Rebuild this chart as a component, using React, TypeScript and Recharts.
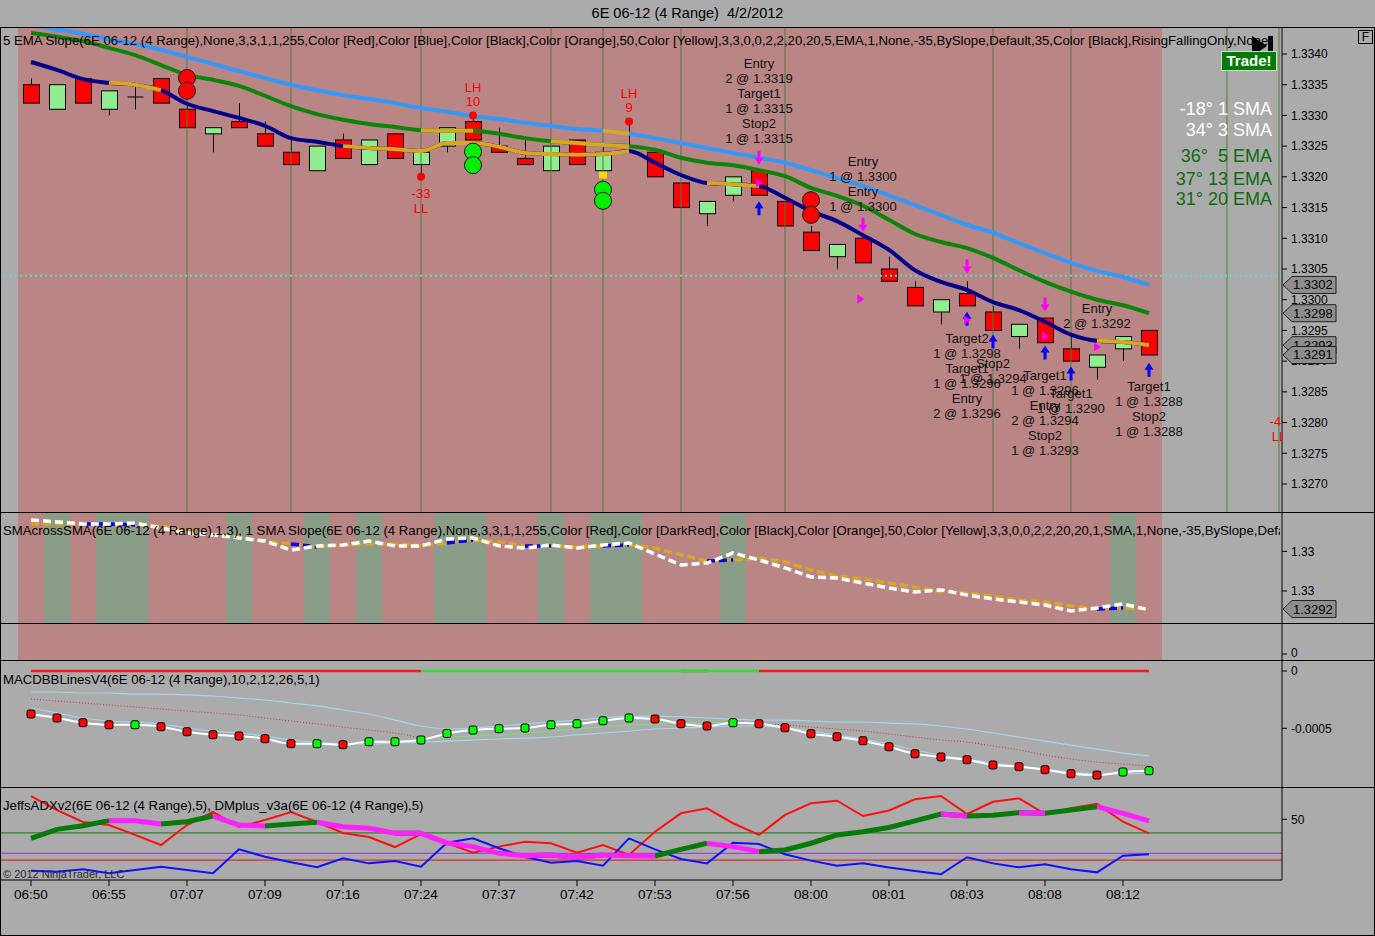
import React from 'react';
import {
  ComposedChart, Bar, Line, Scatter, XAxis, YAxis,
  ReferenceArea, ReferenceLine, ReferenceDot,
} from 'recharts';

const FONT = '"Liberation Sans", Arial, sans-serif';
const W = 1375;
const AXIS_W = 93;
const X_DOMAIN: [number, number] = [-1.1923, 48.1154];
const PINK = '#B98585';
const GRAY = '#ABABAB';
const BAND = '#8A9D88';
const BODY_W = 16;

// ---------- price panel (4 range bars) ----------
const opens = [1.3335, 1.3331, 1.3336, 1.3331, 1.3333, 1.3336, 1.3331, 1.3327, 1.3329, 1.3327, 1.3324, 1.3321, 1.3326, 1.3322, 1.3327, 1.3322, 1.3325, 1.3329, 1.3325, 1.3323, 1.3321, 1.3326, 1.3321, 1.3325, 1.3324, 1.3319, 1.3314, 1.3317, 1.3321, 1.3316, 1.3311, 1.3307, 1.3310, 1.3305, 1.3302, 1.3298, 1.3301, 1.3298, 1.3294, 1.3297, 1.3292, 1.3289, 1.3292, 1.3295];
const highs = [1.3336, 1.3335, 1.3336, 1.3334, 1.3335, 1.3336, 1.3332, 1.3328, 1.3332, 1.3329, 1.3326, 1.3325, 1.3327, 1.3326, 1.3327, 1.3324, 1.3328, 1.3330, 1.3328, 1.3326, 1.3325, 1.3326, 1.3325, 1.3329, 1.3324, 1.3319, 1.3316, 1.3320, 1.3321, 1.3316, 1.3312, 1.3309, 1.3310, 1.3307, 1.3303, 1.3300, 1.3303, 1.3299, 1.3296, 1.3297, 1.3294, 1.3291, 1.3294, 1.3295];
const lows = [1.3332, 1.3331, 1.3332, 1.3330, 1.3331, 1.3332, 1.3328, 1.3324, 1.3328, 1.3325, 1.3322, 1.3321, 1.3323, 1.3322, 1.3323, 1.3320, 1.3324, 1.3326, 1.3324, 1.3322, 1.3321, 1.3322, 1.3321, 1.3325, 1.3320, 1.3315, 1.3312, 1.3316, 1.3317, 1.3312, 1.3308, 1.3305, 1.3306, 1.3303, 1.3299, 1.3296, 1.3299, 1.3295, 1.3292, 1.3293, 1.3290, 1.3287, 1.3290, 1.3291];
const closes = [1.3332, 1.3335, 1.3332, 1.3334, 1.3333, 1.3332, 1.3328, 1.3328, 1.3328, 1.3325, 1.3322, 1.3325, 1.3323, 1.3326, 1.3323, 1.3324, 1.3328, 1.3326, 1.3324, 1.3322, 1.3325, 1.3322, 1.3324, 1.3325, 1.3320, 1.3315, 1.3316, 1.3320, 1.3317, 1.3312, 1.3308, 1.3309, 1.3306, 1.3303, 1.3299, 1.3300, 1.3299, 1.3295, 1.3296, 1.3293, 1.3290, 1.3291, 1.3294, 1.3291];

const ema20 = [1.33447, 1.33440, 1.33433, 1.33424, 1.33416, 1.33407, 1.33395, 1.33384, 1.33372, 1.33361, 1.33350, 1.33341, 1.33333, 1.33327, 1.33320, 1.33312, 1.33306, 1.33299, 1.33294, 1.33288, 1.33283, 1.33278, 1.33275, 1.33270, 1.33263, 1.33255, 1.33247, 1.33239, 1.33231, 1.33223, 1.33211, 1.33198, 1.33185, 1.33170, 1.33154, 1.33138, 1.33122, 1.33109, 1.33092, 1.33076, 1.33060, 1.33047, 1.33037, 1.33024];
const ema13 = [1.33434, 1.33428, 1.33421, 1.33410, 1.33398, 1.33382, 1.33366, 1.33358, 1.33348, 1.33332, 1.33315, 1.33302, 1.33293, 1.33286, 1.33281, 1.33276, 1.33275, 1.33275, 1.33270, 1.33263, 1.33258, 1.33255, 1.33252, 1.33250, 1.33244, 1.33231, 1.33223, 1.33219, 1.33211, 1.33201, 1.33182, 1.33169, 1.33153, 1.33130, 1.33107, 1.33094, 1.33084, 1.33068, 1.33048, 1.33029, 1.33013, 1.33000, 1.32991, 1.32978];
const ema5 = [1.33387, 1.33374, 1.33359, 1.33353, 1.33350, 1.33341, 1.33319, 1.33307, 1.33296, 1.33283, 1.33263, 1.33257, 1.33250, 1.33247, 1.33245, 1.33242, 1.33255, 1.33255, 1.33249, 1.33239, 1.33237, 1.33236, 1.33237, 1.33242, 1.33223, 1.33203, 1.33190, 1.33188, 1.33185, 1.33166, 1.33144, 1.33128, 1.33105, 1.33081, 1.33048, 1.33029, 1.33016, 1.32996, 1.32983, 1.32964, 1.32943, 1.32933, 1.32931, 1.32926];
// bar ranges where each average is flat (drawn orange)
const ema5Flat = [[3, 5], [12, 15], [16, 18], [19, 23], [26, 28], [41, 43]];
const ema13Flat = [[15, 17], [20, 23]];
const ema20Flat = [[22, 23]];

const priceTicks = [1.3270, 1.3275, 1.3280, 1.3285, 1.3290, 1.3295, 1.3300, 1.3305, 1.3310, 1.3315, 1.3320, 1.3325, 1.3330, 1.3335, 1.3340];
const minuteLines = [6, 10, 15, 20, 22, 25, 29, 37, 40, 46, 48];
const drawnLevel = 1.33039;

const redSignals = [{ x: 6, y: 1.33361 }, { x: 6, y: 1.33340 }, { x: 30, y: 1.33162 }, { x: 30, y: 1.33138 }];
const greenSignals = [{ x: 17, y: 1.33241 }, { x: 17, y: 1.33219 }, { x: 22, y: 1.33179 }, { x: 22, y: 1.33161 }];
const yellowMarks = [{ x: 22, y: 1.33202 }];
const pivots = [
  { x: 15, y: 1.3320, lines: ['-33', 'LL'], below: true, dot: true },
  { x: 17, y: 1.3330, lines: ['LH', '10'], below: false, dot: true },
  { x: 23, y: 1.3329, lines: ['LH', '9'], below: false, dot: true },
  { x: 48, y: 1.3283, lines: ['-40', 'LL'], below: true, dot: false },
];
const exitArrows = [{ x: 28, y: 1.33231 }, { x: 32, y: 1.33122 }, { x: 36, y: 1.33054 }, { x: 39, y: 1.32992 }];
const entryArrows = [{ x: 28, y: 1.33149 }, { x: 36, y: 1.32969 }, { x: 37, y: 1.32932 }, { x: 39, y: 1.32914 }, { x: 40, y: 1.32880 }, { x: 43, y: 1.32886 }];
const fillMarks = [{ x: 28, y: 1.33190 }, { x: 31.9, y: 1.33001 }, { x: 36, y: 1.32967 }, { x: 39, y: 1.32941 }, { x: 41, y: 1.32923 }];
const orderNotes = [
  { x: 28, y: 1.33384, lines: ['Entry', '2 @ 1.3319', 'Target1', '1 @ 1.3315', 'Stop2', '1 @ 1.3315'] },
  { x: 32, y: 1.33225, lines: ['Entry', '1 @ 1.3300', 'Entry', '1 @ 1.3300'] },
  { x: 36, y: 1.32937, lines: ['Target2', '1 @ 1.3298', 'Target1', '1 @ 1.3296', 'Entry', '2 @ 1.3296'] },
  { x: 37, y: 1.32896, lines: ['Stop2', '1 @ 1.3294'] },
  { x: 39, y: 1.32877, lines: ['Target1', '1 @ 1.3296', 'Entry', '2 @ 1.3294', 'Stop2', '1 @ 1.3293'] },
  { x: 40, y: 1.32848, lines: ['Target1', '1 @ 1.3290'] },
  { x: 41, y: 1.32986, lines: ['Entry', '2 @ 1.3292'] },
  { x: 43, y: 1.32858, lines: ['Target1', '1 @ 1.3288', 'Stop2', '1 @ 1.3288'] },
];
const slopeNotes = [
  { text: '-18° 1 SMA', light: true },
  { text: '34° 3 SMA', light: true },
  { text: '36°  5 EMA', light: false },
  { text: '37° 13 EMA', light: false },
  { text: '31° 20 EMA', light: false },
];

// ---------- SMA cross panel ----------
const sma1 = [1.33323, 1.33314, 1.33305, 1.33305, 1.33309, 1.33286, 1.33264, 1.33255, 1.33241, 1.33227, 1.33186, 1.33205, 1.33209, 1.33227, 1.33205, 1.33205, 1.33236, 1.33241, 1.33205, 1.33195, 1.33209, 1.33195, 1.33209, 1.33218, 1.33168, 1.33118, 1.33127, 1.33173, 1.33141, 1.33105, 1.33064, 1.33059, 1.33036, 1.33014, 1.32995, 1.33005, 1.32982, 1.32964, 1.32950, 1.32936, 1.32909, 1.32923, 1.32941, 1.32914];
const sma3 = [1.33305, 1.33305, 1.33305, 1.33305, 1.33300, 1.33295, 1.33277, 1.33259, 1.33245, 1.33227, 1.33214, 1.33200, 1.33209, 1.33214, 1.33214, 1.33205, 1.33218, 1.33232, 1.33223, 1.33205, 1.33205, 1.33200, 1.33205, 1.33209, 1.33195, 1.33164, 1.33136, 1.33141, 1.33150, 1.33132, 1.33095, 1.33068, 1.33055, 1.33036, 1.33018, 1.32995, 1.32991, 1.32977, 1.32959, 1.32950, 1.32932, 1.32918, 1.32923, 1.32918];
const sma3Rising = [[2, 4], [10, 11], [16, 17], [19, 20], [22, 23], [26, 27], [41, 42]];
const smaUpBars = [1, 3, 4, 8, 11, 13, 16, 17, 20, 22, 23, 27, 42];
const smaTicks = [1.3300, 1.3318];

// ---------- MACD BB panel ----------
const macd = [-0.000375, -0.000410, -0.000451, -0.000469, -0.000469, -0.000486, -0.000530, -0.000556, -0.000567, -0.000591, -0.000634, -0.000634, -0.000643, -0.000617, -0.000617, -0.000602, -0.000545, -0.000515, -0.000503, -0.000497, -0.000469, -0.000460, -0.000434, -0.000410, -0.000419, -0.000460, -0.000480, -0.000451, -0.000460, -0.000495, -0.000547, -0.000573, -0.000608, -0.000661, -0.000722, -0.000750, -0.000774, -0.000820, -0.000835, -0.000861, -0.000896, -0.000908, -0.000881, -0.000870];
const macdUp = [0, 0, 0, 0, 1, 0, 0, 0, 0, 0, 0, 1, 0, 1, 1, 1, 1, 1, 1, 1, 1, 1, 1, 1, 0, 0, 0, 1, 0, 0, 0, 0, 0, 0, 0, 0, 0, 0, 0, 0, 0, 0, 1, 1];
const bandA = [-0.000183, -0.000183, -0.000192, -0.000192, -0.000201, -0.000201, -0.000209, -0.000218, -0.000236, -0.000253, -0.000279, -0.000305, -0.000340, -0.000375, -0.000428, -0.000480, -0.000506, -0.000497, -0.000480, -0.000462, -0.000445, -0.000428, -0.000410, -0.000393, -0.000393, -0.000401, -0.000410, -0.000419, -0.000428, -0.000428, -0.000436, -0.000445, -0.000445, -0.000454, -0.000462, -0.000480, -0.000506, -0.000541, -0.000576, -0.000611, -0.000646, -0.000681, -0.000716, -0.000742];
const bandB = [-0.000323, -0.000366, -0.000410, -0.000436, -0.000445, -0.000462, -0.000497, -0.000524, -0.000541, -0.000567, -0.000602, -0.000620, -0.000637, -0.000637, -0.000628, -0.000620, -0.000611, -0.000602, -0.000593, -0.000585, -0.000576, -0.000558, -0.000541, -0.000524, -0.000506, -0.000497, -0.000489, -0.000480, -0.000480, -0.000497, -0.000524, -0.000558, -0.000593, -0.000637, -0.000689, -0.000733, -0.000768, -0.000803, -0.000829, -0.000855, -0.000881, -0.000899, -0.000899, -0.000890];
const signal = [-0.000244, -0.000262, -0.000279, -0.000297, -0.000314, -0.000332, -0.000349, -0.000366, -0.000384, -0.000410, -0.000436, -0.000462, -0.000489, -0.000515, -0.000541, -0.000585, -0.000576, -0.000567, -0.000558, -0.000541, -0.000524, -0.000506, -0.000489, -0.000471, -0.000462, -0.000454, -0.000454, -0.000454, -0.000462, -0.000471, -0.000489, -0.000506, -0.000524, -0.000550, -0.000576, -0.000602, -0.000620, -0.000654, -0.000689, -0.000733, -0.000768, -0.000794, -0.000812, -0.000829];
const signalRising = [[15, 27]];
const signalFalling = [[0, 15], [27, 43]];
const trendUp = [[15, 25], [26, 28]];
const trendDown = [[0, 15], [25, 26], [28, 43]];

// ---------- ADX / DM panel ----------
const diPlus = [67.1, 56.8, 48.0, 45.8, 38.5, 31.1, 45.8, 55.4, 44.3, 49.5, 55.4, 48.0, 39.9, 37.0, 29.6, 39.2, 32.6, 25.4, 29.9, 33.5, 32.4, 25.4, 31.1, 23.8, 40.9, 54.4, 58.1, 47.1, 38.5, 53.2, 61.8, 63.7, 52.4, 56.5, 64.7, 67.1, 53.9, 62.9, 65.4, 53.9, 58.1, 61.3, 48.2, 39.7];
const diMinus = [12.2, 11.5, 13.2, 10.3, 12.7, 15.1, 12.7, 10.3, 27.9, 22.5, 18.4, 14.7, 21.3, 17.6, 19.3, 15.1, 32.8, 36.0, 28.7, 22.5, 18.1, 19.3, 15.9, 36.0, 27.9, 20.8, 17.6, 32.8, 31.8, 24.3, 19.6, 15.9, 17.6, 14.6, 12.0, 9.6, 22.1, 17.6, 14.7, 16.9, 13.2, 11.0, 23.2, 24.3];
const adx = [36.0, 42.6, 45.3, 49.0, 49.0, 46.5, 48.2, 52.4, 45.8, 45.1, 46.5, 47.8, 44.6, 43.4, 39.7, 39.7, 32.6, 29.9, 25.0, 23.2, 23.8, 22.1, 23.8, 23.2, 23.0, 27.9, 32.4, 29.9, 26.2, 27.4, 32.4, 38.5, 40.9, 44.0, 48.8, 53.9, 52.4, 52.9, 54.9, 54.4, 56.8, 59.3, 54.4, 48.8];
const adxUp = [[0, 3], [5, 7], [9, 11], [14, 15], [19, 20], [21, 22], [24, 26], [28, 35], [36, 38], [39, 41]];
const adxDown = [[3, 5], [7, 9], [11, 14], [15, 19], [20, 21], [22, 24], [26, 28], [35, 36], [38, 39], [41, 43]];
const adxLevels = [40, 25, 20];

const timeTicks = [0, 3, 6, 9, 12, 15, 18, 21, 24, 27, 30, 33, 36, 39, 42];
const timeLabels = ['06:50', '06:55', '07:07', '07:09', '07:16', '07:24', '07:37', '07:42', '07:53', '07:56', '08:00', '08:01', '08:03', '08:08', '08:12'];

// ---------- helpers ----------
const pick = (vals: number[], ranges: number[][]) =>
  vals.map((v, i) => (ranges.some(([a, b]) => i >= a && i <= b) ? v : null));

const e5f = pick(ema5, ema5Flat);
const e13f = pick(ema13, ema13Flat);
const e20f = pick(ema20, ema20Flat);
const priceRows = closes.map((c, i) => ({
  x: i, o: opens[i], h: highs[i], l: lows[i], c, range: [lows[i], highs[i]],
  e5: ema5[i], e13: ema13[i], e20: ema20[i], e5f: e5f[i], e13f: e13f[i], e20f: e20f[i],
}));

const s3r = pick(sma3, sma3Rising);
const smaRows = sma1.map((v, i) => ({ x: i, s1: v, s3: sma3[i], s3r: s3r[i] }));

const zUp = pick(macd.map(() => 0), trendUp);
const zDn = pick(macd.map(() => 0), trendDown);
const sigR = pick(signal, signalRising);
const sigF = pick(signal, signalFalling);
const macdRows = macd.map((v, i) => ({
  x: i, m: v, a: bandA[i], b: bandB[i], sr: sigR[i], sf: sigF[i], zu: zUp[i], zd: zDn[i],
}));

const adxU = pick(adx, adxUp);
const adxD = pick(adx, adxDown);
const adxRows = adx.map((v, i) => ({ x: i, p: diPlus[i], n: diMinus[i], au: adxU[i], ad: adxD[i] }));

const yAxisBase = {
  orientation: 'right' as const,
  width: AXIS_W,
  allowDataOverflow: true,
  tick: { fill: '#000', fontSize: 12 },
  tickLine: { stroke: '#000' },
  axisLine: { stroke: '#000' },
  tickSize: 5,
  tickMargin: 4,
};
const margin = { top: 0, right: 0, bottom: 0, left: 0 };

// ---------- shapes ----------
const Candle = (props: any) => {
  const { x, y, width, height, payload } = props;
  if (x == null || y == null || !payload) return null;
  const top = Math.min(y, y + height);
  const h = Math.abs(height);
  const span = payload.h - payload.l || 1;
  const py = (v: number) => top + ((payload.h - v) / span) * h;
  const cx = Math.round(x + width / 2) + 0.5;
  const left = cx - BODY_W / 2;
  const yo = py(payload.o);
  const yc = py(payload.c);
  const bt = Math.min(yo, yc);
  const bb = Math.max(yo, yc);
  return (
    <g>
      <line x1={cx} x2={cx} y1={top} y2={top + h} stroke="#000" strokeWidth={1} />
      {bb - bt < 0.5 ? (
        <line x1={left} x2={left + BODY_W} y1={bt} y2={bt} stroke="#000" strokeWidth={1} />
      ) : (
        <rect x={left} y={bt} width={BODY_W} height={bb - bt} fill={payload.c > payload.o ? '#90EE90' : '#FF0000'} stroke="#000" strokeWidth={1} />
      )}
    </g>
  );
};

const ball = (fill: string) => (p: any) => (
  <circle cx={p.cx} cy={p.cy} r={8.5} fill={fill} stroke="#1a1a1a" strokeWidth={1} />
);
const YellowMark = (p: any) => (
  <rect x={p.cx - 4} y={p.cy - 4} width={8} height={7} fill="#FFD700" />
);
const PivotMark = (p: any) => {
  const d = p.payload;
  return (
    <g>
      {d.dot && <circle cx={p.cx} cy={p.cy} r={4} fill="#FF0000" />}
      {d.lines.map((t: string, k: number) => (
        <text key={k} x={p.cx} y={p.cy + (d.below ? 17 + 15 * k : -28 + 14 * k)} textAnchor="middle" dominantBaseline="central" fontSize={13} fill="#FF0000">{t}</text>
      ))}
    </g>
  );
};
const DownArrow = (p: any) => (
  <path d={`M${p.cx - 1.5},${p.cy - 7} h3 v7 h3 l-4.5,7 l-4.5,-7 h3 z`} fill="#FF00FF" />
);
const UpArrow = (p: any) => (
  <path d={`M${p.cx - 1.5},${p.cy + 7} h3 v-7 h3 l-4.5,-7 l-4.5,7 h3 z`} fill="#0000FF" />
);
const FillMark = (p: any) => (
  <path d={`M${p.cx - 3},${p.cy - 4.5} L${p.cx + 4},${p.cy} L${p.cx - 3},${p.cy + 4.5} Z`} fill="#FF00FF" />
);
const Note = (p: any) => (
  <g>
    {p.payload.lines.map((t: string, k: number) => (
      <text key={k} x={p.cx} y={p.cy + 15 * k} textAnchor="middle" dominantBaseline="central" fontSize={13} fill="#111">{t}</text>
    ))}
  </g>
);
const flag = (text: string) => (p: any) => (
  <g>
    <path d={`M${p.cx + 1},${p.cy} L${p.cx + 10},${p.cy - 8.5} L${p.cx + 54},${p.cy - 8.5} L${p.cx + 54},${p.cy + 8.5} L${p.cx + 10},${p.cy + 8.5} Z`} fill="#8E8E8E" stroke="#222" strokeWidth={1} />
    <text x={p.cx + 11} y={p.cy} dominantBaseline="central" fontSize={13} fill="#000">{text}</text>
  </g>
);

const line = (key: string, stroke: string, width: number, extra: any = {}) => (
  <Line key={key} dataKey={key} stroke={stroke} strokeWidth={width} dot={false} activeDot={false} isAnimationActive={false} type="monotone" {...extra} />
);

const abs = (top: number, height: number, extra: any = {}) => ({
  position: 'absolute' as const, left: 0, top, height, ...extra,
});
const caption = (top: number, clip: boolean) => ({
  position: 'absolute' as const, left: 0, top, width: clip ? 1280 : undefined, overflow: 'hidden' as const,
  whiteSpace: 'nowrap' as const, fontSize: 13.2, lineHeight: '16px', paddingLeft: 3, boxSizing: 'border-box' as const,
});

export default function App() {
  const priceFlags = [ema20[43], ema13[43], ema5[43], closes[43]];
  return (
    <div style={{ position: 'absolute', left: 0, top: 0, width: W, height: 936, background: GRAY, fontFamily: FONT, overflow: 'hidden', color: '#000' }}>
      <div style={{ position: 'absolute', left: 0, width: W, top: 4, lineHeight: '18px', textAlign: 'center', fontSize: 14.5, whiteSpace: 'pre' }}>
        6E 06-12 (4 Range)  4/2/2012
      </div>

      {/* price panel */}
      <div style={abs(28, 484)}>
        <ComposedChart width={W} height={484} data={priceRows} margin={margin}>
          <XAxis dataKey="x" type="number" domain={X_DOMAIN} hide allowDataOverflow />
          <YAxis {...yAxisBase} domain={[1.326544, 1.334423]} ticks={priceTicks} tickFormatter={(v: number) => v.toFixed(4)} />
          <ReferenceArea x1={-0.5} x2={43.5} fill={PINK} fillOpacity={1} stroke="none" />
          {minuteLines.map((m) => (
            <ReferenceLine key={m} x={m} stroke="#4E7D3C" strokeWidth={1} />
          ))}
          <ReferenceLine y={drawnLevel} stroke="#5CD6D6" strokeWidth={2} strokeDasharray="2 3" />
          <Bar dataKey="range" barSize={BODY_W} shape={Candle} isAnimationActive={false} />
          {line('e20', '#3399FF', 4)}
          {line('e20f', '#DAA520', 4)}
          {line('e13', '#0A850A', 4)}
          {line('e13f', '#DAA520', 4)}
          {line('e5', '#00008B', 4)}
          {line('e5f', '#DAA520', 4)}
          <Scatter data={redSignals} dataKey="y" shape={ball('#FF0000')} isAnimationActive={false} />
          <Scatter data={greenSignals} dataKey="y" shape={ball('#00EE00')} isAnimationActive={false} />
          <Scatter data={yellowMarks} dataKey="y" shape={YellowMark} isAnimationActive={false} />
          <Scatter data={pivots} dataKey="y" shape={PivotMark} isAnimationActive={false} />
          <Scatter data={exitArrows} dataKey="y" shape={DownArrow} isAnimationActive={false} />
          <Scatter data={entryArrows} dataKey="y" shape={UpArrow} isAnimationActive={false} />
          <Scatter data={fillMarks} dataKey="y" shape={FillMark} isAnimationActive={false} />
          <Scatter data={orderNotes} dataKey="y" shape={Note} isAnimationActive={false} />
          {priceFlags.map((v, k) => (
            <ReferenceDot key={k} x={X_DOMAIN[1]} y={v} ifOverflow="visible" zIndex={3000} shape={flag(v.toFixed(4))} />
          ))}
        </ComposedChart>
      </div>

      {/* SMA cross panel */}
      <div style={abs(513, 110)}>
        <ComposedChart width={W} height={110} data={smaRows} margin={margin}>
          <XAxis dataKey="x" type="number" domain={X_DOMAIN} hide allowDataOverflow />
          <YAxis {...yAxisBase} domain={[1.328545, 1.333545]} ticks={smaTicks} tickFormatter={(v: number) => v.toFixed(2)} />
          <ReferenceArea x1={-0.5} x2={43.5} fill={PINK} fillOpacity={1} stroke="none" />
          {smaUpBars.map((b) => (
            <ReferenceArea key={b} x1={b - 0.5} x2={b + 0.5} fill={BAND} fillOpacity={1} stroke="none" />
          ))}
          {line('s3', '#DAA520', 3.5, { strokeDasharray: '8 4', type: 'linear' })}
          {line('s3r', '#0000EE', 3.5, { strokeDasharray: '8 4', type: 'linear' })}
          {line('s1', '#FFFFFF', 3.5, { strokeDasharray: '8 4', type: 'linear' })}
          <ReferenceDot x={X_DOMAIN[1]} y={sma3[43]} ifOverflow="visible" zIndex={3000} shape={flag(sma3[43].toFixed(4))} />
        </ComposedChart>
      </div>

      {/* empty panel */}
      <div style={abs(624, 36)}>
        <ComposedChart width={W} height={36} data={smaRows} margin={margin}>
          <XAxis dataKey="x" type="number" domain={X_DOMAIN} hide allowDataOverflow />
          <YAxis {...yAxisBase} domain={[-6, 30]} ticks={[0]} />
          <ReferenceArea x1={-0.5} x2={43.5} fill={PINK} fillOpacity={1} stroke="none" />
        </ComposedChart>
      </div>

      {/* MACD panel */}
      <div style={abs(661, 126)}>
        <ComposedChart width={W} height={126} data={macdRows} margin={margin}>
          <XAxis dataKey="x" type="number" domain={X_DOMAIN} hide allowDataOverflow />
          <YAxis {...yAxisBase} domain={[-0.001012, 0.0000873]} ticks={[0, -0.0005]} tickFormatter={(v: number) => (v === 0 ? '0' : v.toFixed(4))} />
          {line('a', '#A6D4EC', 1.2)}
          {line('b', '#A6D4EC', 1.2)}
          {line('sf', '#D83030', 1, { strokeDasharray: '1 2' })}
          {line('sr', '#7CE07C', 1)}
          {line('zd', '#EE1C1C', 2.5, { type: 'linear' })}
          {line('zu', '#33DD33', 2.5, { type: 'linear' })}
          <Line
            dataKey="m" stroke="#FFFFFF" strokeWidth={2} type="monotone" activeDot={false} isAnimationActive={false}
            dot={(p: any) => (
              <rect key={p.index} x={p.cx - 4} y={p.cy - 4} width={8} height={8} rx={2}
                fill={macdUp[p.index] ? '#00FF00' : '#FF0000'} stroke="#000" strokeWidth={1} />
            )}
          />
        </ComposedChart>
      </div>

      {/* ADX panel + time axis */}
      <div style={abs(788, 148)}>
        <ComposedChart width={W} height={148} data={adxRows} margin={margin}>
          <XAxis
            dataKey="x" type="number" domain={X_DOMAIN} allowDataOverflow height={56} ticks={timeTicks}
            tickFormatter={(v: number) => timeLabels[timeTicks.indexOf(v)] ?? ''}
            tick={{ fill: '#000', fontSize: 13.5 }} tickLine={{ stroke: '#000' }} axisLine={{ stroke: '#000' }} tickSize={6} tickMargin={3}
          />
          <YAxis {...yAxisBase} domain={[5.37, 73.01]} ticks={[50]} />
          {adxLevels.map((lv, k) => (
            <ReferenceLine key={lv} y={lv} stroke={['#0B7A0B', '#9933DD', '#E01010'][k]} strokeWidth={1} />
          ))}
          {line('p', '#FF1010', 2, { type: 'linear' })}
          {line('n', '#1010FF', 2, { type: 'linear' })}
          {line('au', '#077A07', 5, { type: 'linear' })}
          {line('ad', '#FF22FF', 5, { type: 'linear' })}
        </ComposedChart>
      </div>

      {/* panel frame lines */}
      {[27, 512, 623, 660, 787].map((t) => (
        <div key={t} style={{ position: 'absolute', left: 0, top: t, width: W, height: 1, background: '#000' }} />
      ))}
      <div style={{ position: 'absolute', left: 0, top: 27, width: W, height: 909, border: '1px solid #000', boxSizing: 'border-box' }} />

      {/* indicator captions */}
      <div style={caption(33, true)}>
        5 EMA Slope(6E 06-12 (4 Range),None,3,3,1,1,255,Color [Red],Color [Blue],Color [Black],Color [Orange],50,Color [Yellow],3,3,0,0,2,2,20,20,5,EMA,1,None,-35,BySlope,Default,35,Color [Black],RisingFallingOnly,None
      </div>
      <div style={caption(523, true)}>
        SMAcrossSMA(6E 06-12 (4 Range),1,3), 1 SMA Slope(6E 06-12 (4 Range),None,3,3,1,1,255,Color [Red],Color [DarkRed],Color [Black],Color [Orange],50,Color [Yellow],3,3,0,0,2,2,20,20,1,SMA,1,None,-35,BySlope,Default
      </div>
      <div style={caption(672, false)}>
        MACDBBLinesV4(6E 06-12 (4 Range),10,2,12,26,5,1)
      </div>
      <div style={caption(798, false)}>
        JeffsADXv2(6E 06-12 (4 Range),5), DMplus_v3a(6E 06-12 (4 Range),5)
      </div>
      <div style={{ position: 'absolute', left: 3, top: 867, whiteSpace: 'nowrap', fontSize: 11, lineHeight: '14px', color: '#2a2a2a' }}>
        © 2012 NinjaTrader, LLC
      </div>

      {/* slope readout */}
      {slopeNotes.map((n, k) => (
        <div key={k} style={{ position: 'absolute', right: W - 1272, top: [98, 119, 145, 168, 188][k], fontSize: 18, lineHeight: '22px', whiteSpace: 'pre', color: n.light ? '#FFFFFF' : '#0E6A0E' }}>
          {n.text}
        </div>
      ))}

      {/* chart trader controls */}
      <svg style={{ position: 'absolute', left: 1245, top: 34 }} width={32} height={24}>
        <path d="M7,2 L22,12 L7,22 Z" fill="#000" />
        <rect x={23} y={2} width={5} height={20} fill="#000" />
      </svg>
      <div style={{ position: 'absolute', left: 1221, top: 51, width: 56, height: 20, background: '#007A00', border: '1px solid #C8E0C8', boxSizing: 'border-box', color: '#fff', fontWeight: 'bold', fontSize: 15, lineHeight: '18px', textAlign: 'center' }}>
        Trade!
      </div>
      <div style={{ position: 'absolute', left: 1358, top: 30, width: 15, height: 14, border: '1px solid #000', boxSizing: 'border-box', fontSize: 12, lineHeight: '12px', textAlign: 'center' }}>
        F
      </div>
    </div>
  );
}
